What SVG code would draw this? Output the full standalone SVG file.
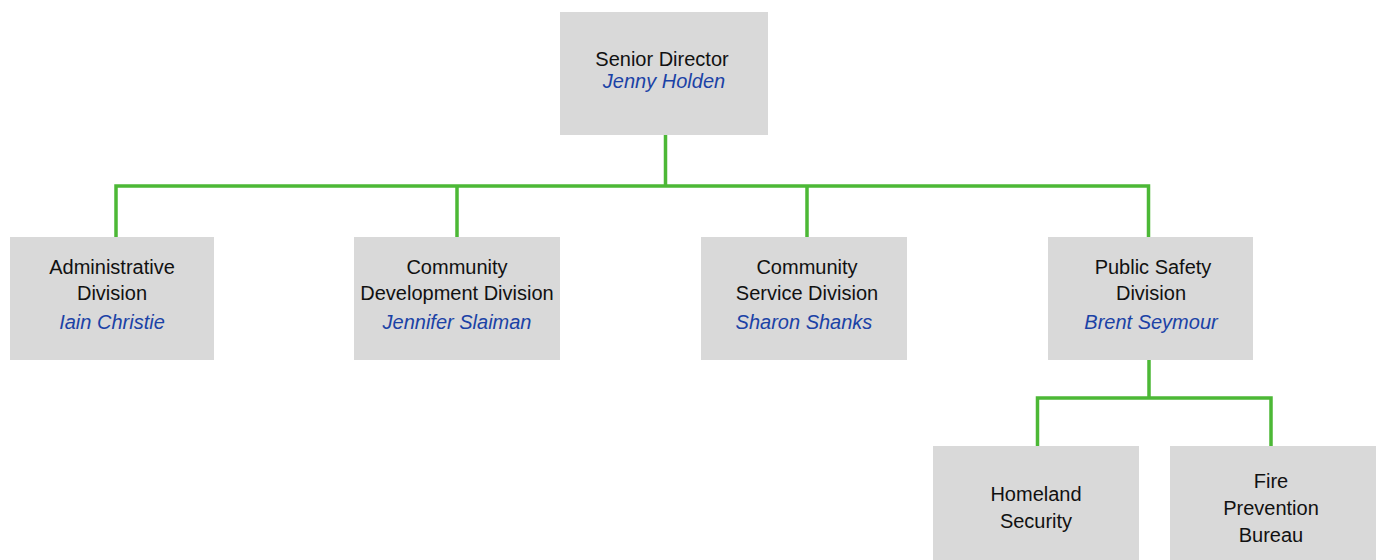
<svg xmlns="http://www.w3.org/2000/svg" width="1382" height="560" viewBox="0 0 1382 560">
<style>
.box{fill:#d9d9d9}
.t{font-family:"Liberation Sans",Arial,sans-serif;font-size:20px;fill:#111;text-anchor:middle}
.n{font-family:"Liberation Sans",Arial,sans-serif;font-size:20px;fill:#1b42a6;font-style:italic;text-anchor:middle}
.c{fill:none;stroke:#4cb836;stroke-width:3.5}
</style>
<rect width="1382" height="560" fill="#ffffff"/>
<g id="connectors">
<path class="c" d="M665.5 135V186M116 237V186H1148.5V237M457 186V237M807 186V237"/>
<path class="c" d="M1149 360V398M1037.5 446V398H1271V446"/>
</g>
<g id="senior-director">
<rect class="box" x="560" y="12" width="208" height="123"/>
<text class="t" x="662" y="66">Senior Director</text>
<text class="n" x="664" y="88">Jenny Holden</text>
</g>
<g id="administrative-division">
<rect class="box" x="10" y="237" width="204" height="123"/>
<text class="t" x="112" y="274">Administrative</text>
<text class="t" x="112" y="300">Division</text>
<text class="n" x="112" y="329">Iain Christie</text>
</g>
<g id="community-development-division">
<rect class="box" x="354" y="237" width="206" height="123"/>
<text class="t" x="457" y="274">Community</text>
<text class="t" x="457" y="300">Development Division</text>
<text class="n" x="457" y="329">Jennifer Slaiman</text>
</g>
<g id="community-service-division">
<rect class="box" x="701" y="237" width="206" height="123"/>
<text class="t" x="807" y="274">Community</text>
<text class="t" x="807" y="300">Service Division</text>
<text class="n" x="804" y="329">Sharon Shanks</text>
</g>
<g id="public-safety-division">
<rect class="box" x="1048" y="237" width="205" height="123"/>
<text class="t" x="1153" y="274">Public Safety</text>
<text class="t" x="1151" y="300">Division</text>
<text class="n" x="1151" y="329">Brent Seymour</text>
</g>
<g id="homeland-security">
<rect class="box" x="933" y="446" width="206" height="123"/>
<text class="t" x="1036" y="501">Homeland</text>
<text class="t" x="1036" y="528">Security</text>
</g>
<g id="fire-prevention-bureau">
<rect class="box" x="1170" y="446" width="206" height="123"/>
<text class="t" x="1271" y="488">Fire</text>
<text class="t" x="1271" y="515">Prevention</text>
<text class="t" x="1271" y="542">Bureau</text>
</g>
</svg>
